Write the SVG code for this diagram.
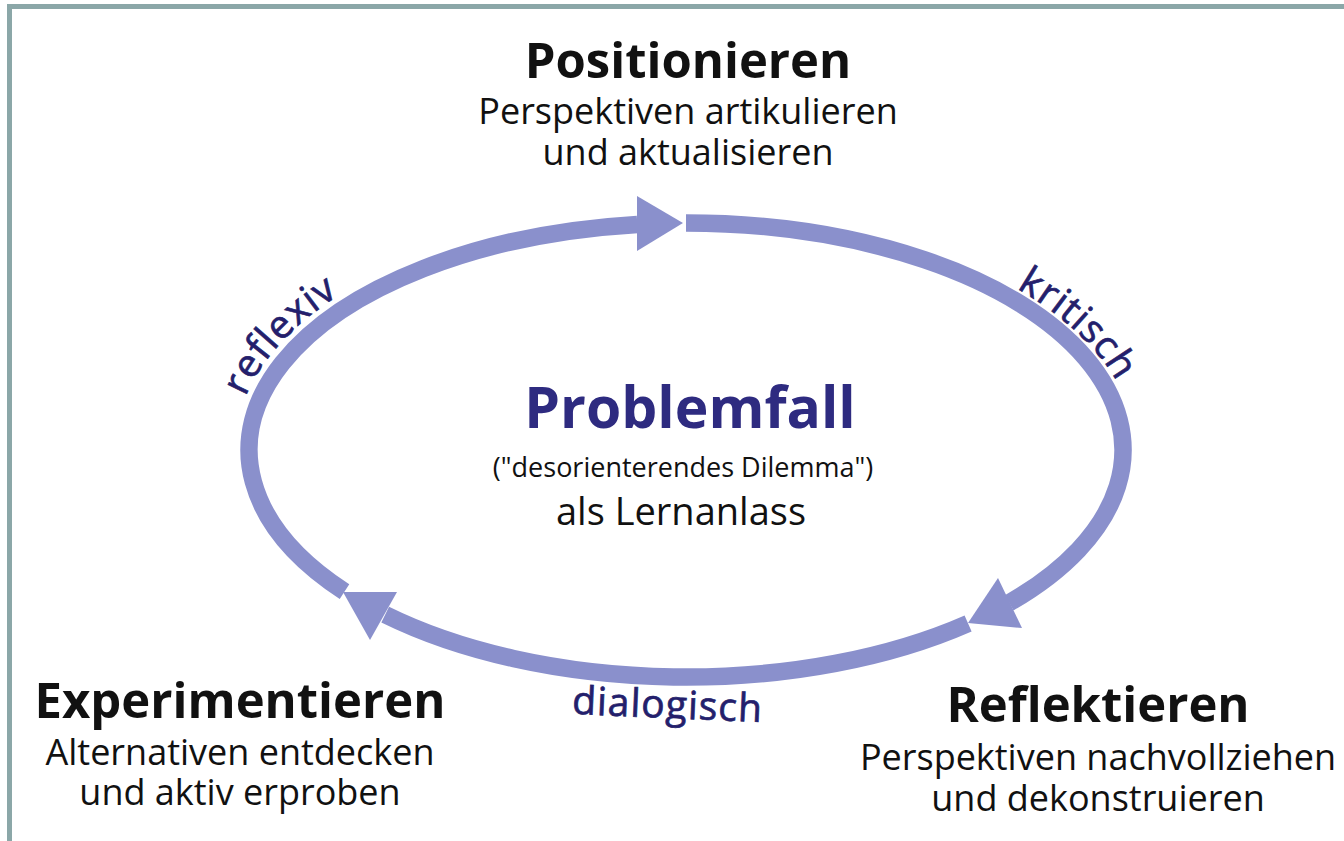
<svg xmlns="http://www.w3.org/2000/svg" width="1344" height="841" viewBox="0 0 1344 841">
  <style>
    .frame { fill: none; stroke: #8ba7a8; stroke-width: 5; }
    .ring { fill: none; stroke: #8a90cc; stroke-width: 17.5; stroke-linecap: butt; }
    .head { fill: #8a90cc; stroke: none; }
    .title { font-family: "Open Sans", "Noto Sans", sans-serif; font-weight: 700; font-size: 49px; fill: #111111; text-anchor: middle; }
    .sub { font-family: "Open Sans", "Noto Sans", sans-serif; font-size: 36px; fill: #111111; text-anchor: middle; }
    .core { font-family: "Open Sans", "Noto Sans", sans-serif; font-weight: 700; font-size: 57px; fill: #2e2b80; text-anchor: middle; }
    .note { font-family: "Open Sans", "Noto Sans", sans-serif; font-size: 27px; fill: #111111; text-anchor: middle; }
    .mode { font-family: "Open Sans", "Noto Sans", sans-serif; font-size: 39px; fill: #241f6c; stroke: #241f6c; stroke-width: 0.7px; letter-spacing: 1px; }
  </style>
  <defs>
    <!-- baselines for the curved labels, just outside the ring -->
    <path id="arcLeft" d="M 236 466 A 450 240 0 0 1 402 262"/>
    <path id="arcRight" d="M 945 255 A 450 240 0 0 1 1136 458"/>
  </defs>

  <rect width="1344" height="841" fill="#ffffff"/>
  <rect class="frame" x="9.5" y="6.5" width="1400" height="900"/>

  <!-- cycle ring with three arrowheads -->
  <g id="connectors">
    <path class="ring" d="M 344.5 591.6 A 437 227 0 0 1 637.3 224.4"/>
    <path class="ring" d="M 686 223 A 437 227 0 0 1 1009.2 602.8"/>
    <path class="ring" d="M 968.1 623.4 A 437 227 0 0 1 385.2 614.7"/>
    <polygon class="head" points="637,196 683,223 637,251"/>
    <polygon class="head" points="998,578 968,623 1022,628"/>
    <polygon class="head" points="397,592 343,592 370,640"/>
  </g>

  <g id="label-reflexiv">
    <text class="mode"><textPath href="#arcLeft" startOffset="50%" text-anchor="middle">reflexiv</textPath></text>
  </g>
  <g id="label-kritisch">
    <text class="mode"><textPath href="#arcRight" startOffset="50%" text-anchor="middle">kritisch</textPath></text>
  </g>
  <g id="label-dialogisch">
    <text class="mode" x="667" y="718" text-anchor="middle" transform="rotate(2.5 667 718)">dialogisch</text>
  </g>

  <g id="node-positionieren">
    <text class="title" x="688" y="78">Positionieren</text>
    <text class="sub" x="688" y="124">Perspektiven artikulieren</text>
    <text class="sub" x="688" y="165">und aktualisieren</text>
  </g>

  <g id="node-problemfall">
    <text class="core" x="690" y="428">Problemfall</text>
    <text class="note" x="683" y="477">("desorienterendes Dilemma")</text>
    <text class="sub" x="681" y="525" style="font-size:38px">als Lernanlass</text>
  </g>

  <g id="node-experimentieren">
    <text class="title" x="240" y="718">Experimentieren</text>
    <text class="sub" x="240" y="765">Alternativen entdecken</text>
    <text class="sub" x="240" y="805">und aktiv erproben</text>
  </g>

  <g id="node-reflektieren">
    <text class="title" x="1098" y="722">Reflektieren</text>
    <text class="sub" x="1098" y="770">Perspektiven nachvollziehen</text>
    <text class="sub" x="1098" y="811">und dekonstruieren</text>
  </g>
</svg>
